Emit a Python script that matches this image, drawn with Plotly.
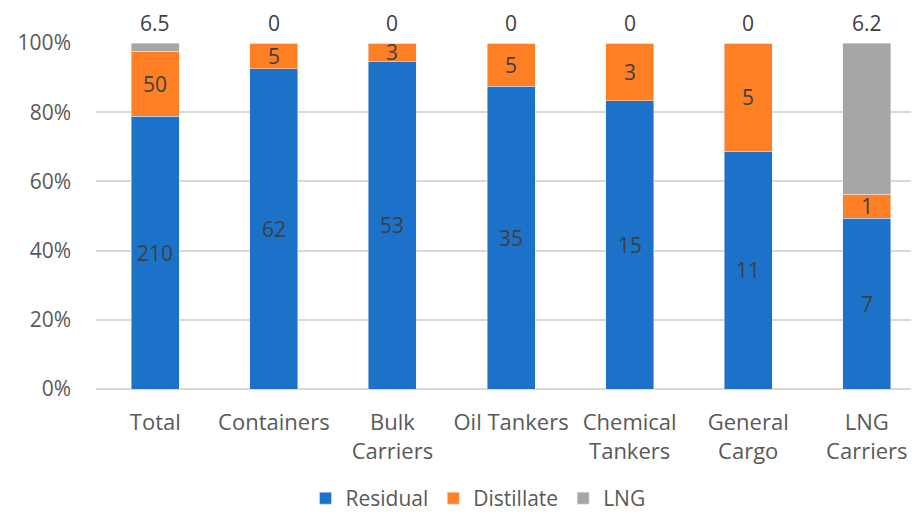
import plotly.graph_objects as go

categories = ["Total", "Containers", "Bulk<br>Carriers", "Oil Tankers", "Chemical<br>Tankers", "General<br>Cargo", "LNG<br>Carriers"]
residual = [210, 62, 53, 35, 15, 11, 7]
distillate = [50, 5, 3, 5, 3, 5, 1]
lng = [6.5, 0, 0, 0, 0, 0, 6.2]
y_ticks = [0, 20, 40, 60, 80, 100]
y_tick_labels = ["0%", "20%", "40%", "60%", "80%", "100%"]

FONT = "Open Sans"
OFF = 8  # page body margin
W, H = 919 - OFF, 519 - OFF
ML, MR, MT = 96 - OFF, 0, 43 - OFF
MB = H - (389 - OFF)
LABEL_COLOR = "#404040"
AXIS_COLOR = "#595959"

fig = go.Figure()
fig.add_trace(go.Bar(name="Residual", x=categories, y=residual, marker_color="#1B72C8"))
fig.add_trace(go.Bar(name="Distillate", x=categories, y=distillate, marker_color="#FF7F24"))
fig.add_trace(go.Bar(name="LNG", x=categories, y=lng, marker_color="#A6A6A6"))

# data labels positioned from the data (percent of stack)
annotations = []
lab_font = dict(size=21, color=LABEL_COLOR, family=FONT)
for c, r, d, g in zip(categories, residual, distillate, lng):
    tot = r + d + g
    annotations.append(dict(x=c, y=r / 2 / tot * 100, text=str(r), showarrow=False,
                            xref="x", yref="y", yanchor="middle", font=lab_font))
    annotations.append(dict(x=c, y=(r + d / 2) / tot * 100, text=str(d), showarrow=False,
                            xref="x", yref="y", yanchor="middle", font=lab_font))
    annotations.append(dict(x=c, y=100, text="%g" % g, showarrow=False,
                            xref="x", yref="y", yanchor="bottom", yshift=4, font=lab_font))

fig.update_layout(
    width=W, height=H, autosize=False,
    margin=dict(l=ML, r=MR, t=MT, b=MB, autoexpand=False),
    barmode="stack", barnorm="percent", bargap=0.595,
    plot_bgcolor="white", paper_bgcolor="white",
    font=dict(family=FONT, size=21, color=AXIS_COLOR),
    annotations=annotations,
    showlegend=True,
    legend=dict(orientation="h", x=(478 - OFF - ML) / (W - ML - MR), xanchor="center",
                y=-MB / (H - MT - MB), yanchor="bottom",
                font=dict(size=21, color=AXIS_COLOR, family=FONT),
                traceorder="normal", itemwidth=30),
    xaxis=dict(range=[-0.5, 6.44], showgrid=False, showline=False, ticks="",
               tickfont=dict(size=22, color=AXIS_COLOR, family=FONT),
               ticklabelstandoff=18, automargin=False, fixedrange=True),
    yaxis=dict(range=[0, 100], tickvals=y_ticks, ticktext=y_tick_labels,
               showgrid=True, gridcolor="#D9D9D9", gridwidth=2,
               zeroline=True, zerolinecolor="#D9D9D9", zerolinewidth=2,
               showline=False, ticks="",
               tickfont=dict(size=21, color=AXIS_COLOR, family=FONT),
               ticklabelstandoff=24, automargin=False),
)

fig.write_html("out.html")
